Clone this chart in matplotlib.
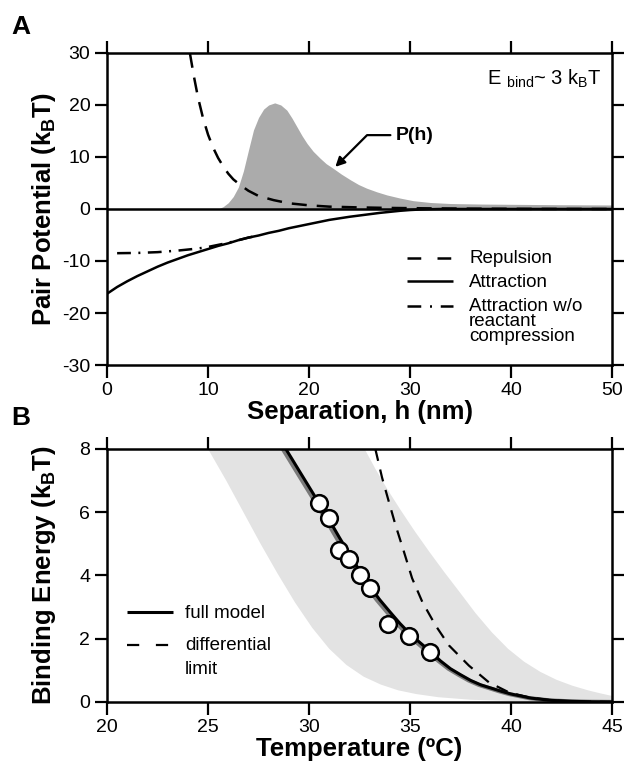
import matplotlib
matplotlib.use("Agg")
import matplotlib.pyplot as plt

plt.rcParams.update({
    "font.family": "Liberation Sans",
    "mathtext.fontset": "custom",
    "mathtext.rm": "Liberation Sans",
    "mathtext.bf": "Liberation Sans:bold",
    "mathtext.it": "Liberation Sans:italic",
    "axes.linewidth": 1.8,
    "axes.unicode_minus": False,
})

# ---- panel A: pair potentials vs separation (nm, kBT) ----
h_rep = [8.2, 8.6, 9.0, 9.5, 10.0, 10.5, 11.0, 11.5, 12.0, 12.5, 13.2, 14.0, 15.0,
         16.5, 18.0, 20.0, 22.0, 25.0, 28.0, 32.0, 36.0, 42.0, 50.0]
V_rep = [30.0, 25.5, 21.5, 17.5, 14.3, 11.8, 9.8, 8.2, 6.8, 5.7, 4.6, 3.5, 2.5,
         1.7, 1.1, 0.7, 0.45, 0.3, 0.2, 0.12, 0.06, 0.02, 0.0]

h_att = [0, 1, 2, 3, 4, 5, 6, 7, 8, 9, 10, 11, 12, 13, 14, 15, 16, 17, 18, 19, 20,
         21, 22, 23, 24, 25, 26, 27, 28, 29, 30, 31, 32, 33, 35, 40, 50]
V_att = [-16.3, -15.0, -13.9, -12.9, -12.0, -11.1, -10.3, -9.6, -8.9, -8.3, -7.7,
         -7.1, -6.6, -6.0, -5.5, -5.1, -4.6, -4.2, -3.7, -3.3, -2.9, -2.5, -2.1,
         -1.8, -1.5, -1.25, -1.0, -0.75, -0.55, -0.35, -0.2, -0.1, -0.04, 0.0,
         0.0, 0.0, 0.0]

h_nocomp = [1.0, 3.0, 5.0, 7.0, 9.0, 10.0, 11.0, 12.0, 13.0, 14.0, 15.0]
V_nocomp = [-8.5, -8.45, -8.3, -8.0, -7.6, -7.3, -6.9, -6.5, -6.0, -5.5, -5.1]

h_P = [11.0, 11.5, 12.0, 12.5, 13.0, 13.5, 14.0, 14.5, 15.0, 15.5, 16.0, 16.6,
       17.2, 17.8, 18.3, 18.8, 19.3, 19.8, 20.4, 21.1, 21.7, 22.4, 23.2, 24.1,
       24.9, 25.7, 26.7, 27.7, 29.0, 30.3, 32.0, 34.0, 37.0, 40.0, 45.0, 50.0]
P_h = [0.0, 0.45, 1.2, 2.4, 4.2, 7.3, 11.3, 15.2, 17.6, 19.2, 20.0, 20.4,
       20.0, 19.0, 17.5, 15.8, 14.1, 12.6, 11.1, 9.75, 8.7, 7.8, 6.7, 5.6,
       4.7, 4.0, 3.3, 2.7, 2.1, 1.6, 1.25, 1.05, 0.95, 0.9, 0.82, 0.77]

legend_A = ["Repulsion", "Attraction", "Attraction w/o\nreactant\ncompression"]

# ---- panel B: binding energy vs temperature (degC, kBT) ----
T_full = [28.85, 29.5, 30.0, 30.5, 31.0, 31.5, 32.0, 32.5, 33.0, 33.5, 34.0, 34.5,
          35.0, 35.5, 36.0, 36.5, 37.0, 37.5, 38.0, 38.5, 39.0, 39.5, 40.0, 41.0,
          42.0, 43.0, 44.0, 45.0]
E_full = [8.0, 7.32, 6.8, 6.28, 5.75, 5.2, 4.67, 4.15, 3.66, 3.23, 2.85, 2.48,
          2.15, 1.87, 1.6, 1.3, 1.05, 0.86, 0.68, 0.54, 0.44, 0.34, 0.25, 0.12,
          0.05, 0.02, 0.005, 0.0]

T_grey = [28.7, 29.35, 29.85, 30.35, 30.85, 31.35, 31.85, 32.35, 32.85, 33.35,
          33.85, 34.35, 34.85, 35.35, 35.85, 36.4, 36.9, 37.4, 37.9, 38.4, 38.9,
          39.4, 39.9, 40.9, 41.9, 42.9, 43.9, 45.0]
E_grey = [8.0, 7.32, 6.8, 6.28, 5.75, 5.2, 4.67, 4.15, 3.66, 3.23, 2.85, 2.48,
          2.15, 1.87, 1.6, 1.3, 1.05, 0.86, 0.68, 0.54, 0.44, 0.34, 0.25, 0.12,
          0.05, 0.02, 0.005, 0.0]

T_diff = [33.28, 33.61, 33.94, 34.27, 34.69, 35.1, 35.6, 36.26, 36.92, 37.91, 38.9,
          39.9, 40.9, 42.0, 43.0, 45.0]
E_diff = [8.0, 7.1, 6.35, 5.61, 4.76, 3.91, 3.17, 2.42, 1.79, 1.15, 0.62, 0.3,
          0.14, 0.05, 0.02, 0.0]

T_band_lo = [25.0, 25.9, 26.75, 27.6, 28.45, 29.3, 30.15, 31.0, 31.85, 32.7, 33.55,
             34.4, 35.3, 36.4, 38.0, 40.0, 42.5, 45.0]
E_band_lo = [8.0, 7.0, 6.0, 5.0, 4.05, 3.15, 2.35, 1.68, 1.17, 0.8, 0.55, 0.37,
             0.25, 0.15, 0.07, 0.03, 0.01, 0.0]
T_band_hi = [32.75, 33.3, 33.9, 34.55, 35.23, 35.95, 36.7, 37.48, 38.25, 39.05,
             39.85, 40.65, 41.45, 42.25, 43.05, 43.85, 44.5, 45.0]
E_band_hi = [8.0, 7.35, 6.7, 6.05, 5.4, 4.75, 4.1, 3.45, 2.8, 2.2, 1.68, 1.27,
             0.95, 0.7, 0.51, 0.36, 0.26, 0.19]

T_meas = [30.5, 31.0, 31.5, 32.0, 32.5, 33.0, 33.9, 34.95, 36.0]
E_meas = [6.3, 5.82, 4.81, 4.52, 4.02, 3.59, 2.48, 2.08, 1.59]

legend_B = ["full model", "differential", "limit"]


def style(ax):
    ax.tick_params(direction="out", top=True, right=True, length=9, width=1.6,
                   labelsize=14, pad=3)
    for sp in ax.spines.values():
        sp.set_linewidth(1.8)


def key(ax, x0, x1, y, **kw):
    # legend handle drawn in axes coordinates
    ax.plot([x0, x1], [y, y], transform=ax.transAxes, color="black",
            clip_on=False, solid_capstyle="butt", dash_capstyle="butt", **kw)


fig = plt.figure(figsize=(6.24, 7.63), dpi=100)
axA = fig.add_axes([0.1715, 0.5216, 0.8095, 0.409])
axB = fig.add_axes([0.1715, 0.0800, 0.8095, 0.3316])

# --- A ---
axA.fill_between(h_P, 0, P_h, color="#ababab", lw=0, zorder=1)
axA.axhline(0, color="black", lw=1.8, zorder=2)
axA.plot(h_rep, V_rep, color="black", lw=1.8, dashes=(6, 4), zorder=3)
axA.plot(h_att, V_att, color="black", lw=1.8, zorder=3)
axA.plot(h_nocomp, V_nocomp, color="black", lw=1.8, dashes=(5.5, 3, 0.8, 3), zorder=3)
axA.set_xlim(0, 50)
axA.set_ylim(-30, 30)
axA.set_xticks(range(0, 51, 10))
axA.set_yticks(range(-30, 31, 10))
style(axA)
axA.set_xlabel("Separation, h (nm)", fontsize=18.5, fontweight="bold", labelpad=1)
axA.set_ylabel(r"Pair Potential (k$_\mathbf{B}$T)", fontsize=18.5, fontweight="bold")
axA.yaxis.set_label_coords(-0.098, 0.5)

key(axA, 0.5945, 0.6851, 0.344, lw=1.8, dashes=(5.5, 6.5))
key(axA, 0.5945, 0.6851, 0.269, lw=1.8)
key(axA, 0.5945, 0.6851, 0.190, lw=1.8, dashes=(5.5, 3.5, 0.8, 3.5))
# baseline of the last line of each label (multi-line text aligns on its last line)
for lab, yb in zip(legend_A, [0.326, 0.251, 0.077]):
    axA.text(0.7168, yb, lab, transform=axA.transAxes, fontsize=13.5,
             va="baseline", linespacing=0.83)

axA.text(0.98, 0.897, r"E $_\mathrm{bind}$~ 3 k$_\mathrm{B}$T", transform=axA.transAxes,
         ha="right", va="baseline", fontsize=14.5)
axA.annotate("P(h)", xy=(22.6, 8.1), xytext=(28.6, 14.2), fontsize=14,
             fontweight="bold", ha="left", va="center",
             arrowprops=dict(arrowstyle="-|>", color="black", lw=1.6,
                             mutation_scale=14, shrinkA=2, shrinkB=0,
                             relpos=(0, 0.5),
                             connectionstyle="angle,angleA=0,angleB=45,rad=0"))

# --- B ---
axB.fill(T_band_lo + T_band_hi[::-1], E_band_lo + E_band_hi[::-1],
         color="#e3e3e3", lw=0, zorder=1)
axB.plot(T_grey, E_grey, color="#7a7a7a", lw=3, zorder=2)
axB.plot(T_full, E_full, color="black", lw=2.2, zorder=3)
axB.plot(T_diff, E_diff, color="black", lw=1.6, dashes=(5.5, 4), zorder=3)
axB.plot(T_meas, E_meas, "o", ms=12, mfc="white", mec="black", mew=1.8, zorder=4)
axB.set_xlim(20, 45)
axB.set_ylim(0, 8)
axB.set_xticks(range(20, 46, 5))
axB.set_yticks(range(0, 9, 2))
style(axB)
axB.set_xlabel("Temperature (ºC)", fontsize=18.5, fontweight="bold", labelpad=1)
axB.set_ylabel(r"Binding Energy (k$_\mathbf{B}$T)", fontsize=18.5, fontweight="bold")
axB.yaxis.set_label_coords(-0.098, 0.5)

key(axB, 0.039, 0.1313, 0.354, lw=2.2)
key(axB, 0.039, 0.1313, 0.224, lw=1.6, dashes=(5.5, 7.5))
for lab, yb in zip(legend_B, [0.330, 0.204, 0.112]):
    axB.text(0.1545, yb, lab, transform=axB.transAxes, fontsize=13.5, va="baseline")

fig.text(0.018, 1 - 27 / 763, "A", fontsize=19, fontweight="bold", va="center")
fig.text(0.018, 1 - 418 / 763, "B", fontsize=19, fontweight="bold", va="center")

fig.savefig("out.png", dpi=100)
